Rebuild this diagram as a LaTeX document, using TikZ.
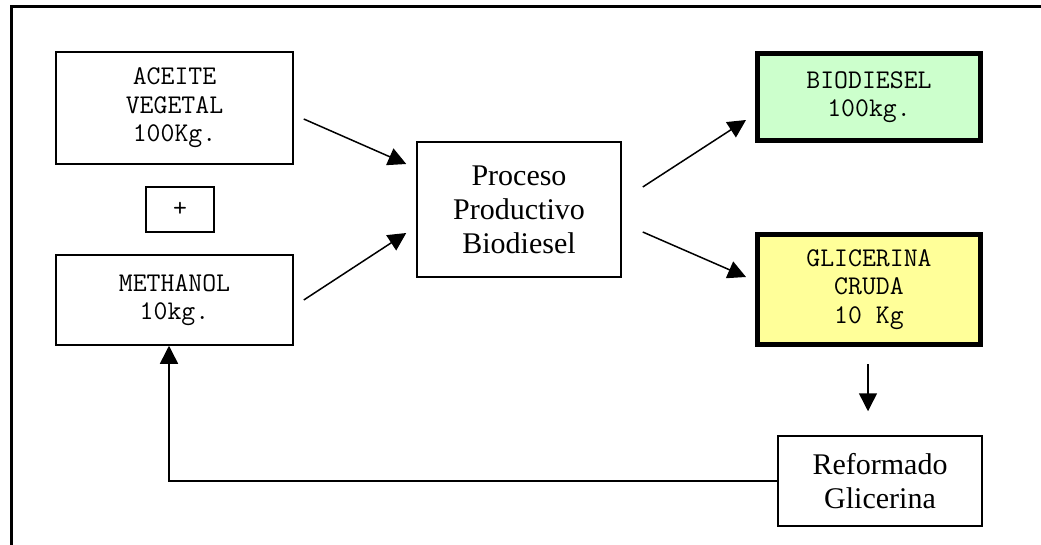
\documentclass[tikz,border=0pt]{standalone}
\usepackage{fontspec}
\setmainfont{Liberation Serif}
\usepackage{tikz}
\usetikzlibrary{arrows.meta}
\usetikzlibrary{positioning,calc}

\tikzset{
   caja/.style={draw, line width=1.5pt, inner sep=0pt, align=center,
      font=\ttfamily\fontsize{27}{28.5}\selectfont},
   cajagruesa/.style={caja, line width=5pt},
   proc/.style={draw, line width=1.5pt, inner sep=0pt, align=center,
      font=\fontsize{30}{34}\selectfont},
   flecha/.style={line width=1.5pt, -{Triangle[length=18pt,width=18pt]}}
}

\begin{document}
\begin{tikzpicture}[x=1pt,y=-1pt]
\useasboundingbox (0,0) rectangle (1041,545);
% marco
\draw[line width=3pt] (11,545) -- (11,7) -- (1041,7);

% entradas
\node[caja, minimum width=237pt, minimum height=112pt] (aceite) at (174.5,108) {ACEITE\\VEGETAL\\100Kg.};
\node[caja, minimum width=68pt, minimum height=45pt] (mas) at (180,209.5) {+};
\node[caja, minimum width=237pt, minimum height=90pt] (metanol) at (174.5,300) {METHANOL\\10kg.};

% proceso
\node[proc, minimum width=204pt, minimum height=135pt] (proceso) at (519,209.5) {Proceso\\Productivo\\Biodiesel};

% salidas
\node[cajagruesa, fill={rgb,255:red,204;green,255;blue,204}, minimum width=223pt, minimum height=87pt] (biodiesel) at (869,97) {BIODIESEL\\100kg.};
\node[cajagruesa, fill={rgb,255:red,255;green,255;blue,153}, minimum width=223pt, minimum height=110pt] (glicerina) at (869,289.5) {GLICERINA\\CRUDA\\10 Kg};
\node[proc, minimum width=204pt, minimum height=90pt] (reformado) at (880,481) {Reformado\\Glicerina};

% flechas
\draw[flecha] ($(aceite.east)+(10,11)$) -- ($(proceso.west)+(-10,-45.5)$);
\draw[flecha] ($(metanol.east)+(10,0)$) -- ($(proceso.west)+(-10,23.5)$);
\draw[flecha] ($(proceso.east)+(21,-22.5)$) -- ($(biodiesel.west)+(-9,23)$);
\draw[flecha] ($(proceso.east)+(21,22.5)$) -- ($(glicerina.west)+(-9,-12.5)$);
\draw[flecha, shorten <=17pt, shorten >=24pt] ($(glicerina.south)+(-1,0)$) -- ($(reformado.north)+(-12,0)$);
\draw[flecha] (reformado.west) -| ($(metanol.south)+(-5.5,0)$);

\end{tikzpicture}
\end{document}
